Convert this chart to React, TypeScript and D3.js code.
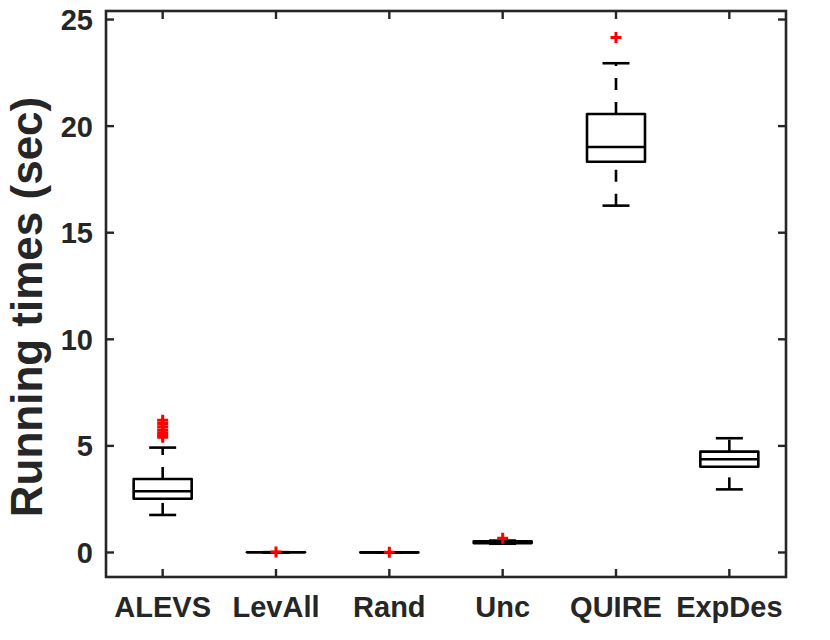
import React from "react";
import * as d3 from "d3";

const categories = ["ALEVS", "LevAll", "Rand", "Unc", "QUIRE", "ExpDes"];
const lowerWhisker = [1.76, 0.005, 0.001, 0.41, 16.27, 2.96];
const q1 = [2.52, 0.008, 0.002, 0.44, 18.33, 4.02];
const medians = [2.87, 0.01, 0.003, 0.48, 19.02, 4.37];
const q3 = [3.45, 0.012, 0.004, 0.52, 20.57, 4.73];
const upperWhisker = [4.92, 0.015, 0.005, 0.56, 22.95, 5.36];
const outliers: number[][] = [
  [5.4, 5.5, 5.62, 5.75, 5.9, 6.05, 6.2],
  [0.02],
  [0.01],
  [0.67],
  [24.16],
  [],
];
const yTicks = [0, 5, 10, 15, 20, 25];

const W = 830;
const H = 640;
const left = 106;
const right = 786;
const top = 11;
const bottom = 577;

const axisColor = "#262626";
const font = "'Liberation Sans', Arial, Helvetica, sans-serif";

export default function App() {
  const x = d3.scaleLinear().domain([0.5, 6.5]).range([left, right]);
  const y = d3.scaleLinear().domain([-1.15, 25.4]).range([bottom, top]);
  const boxW = 58;
  const capW = 27;
  const lw = 2.6;
  const tickLen = 8;
  const plusHalf = 5.5;

  return (
    <svg
      width={W}
      height={H}
      style={{ position: "absolute", left: 0, top: 0, background: "#fff" }}
    >
      <rect x={0} y={0} width={W} height={H} fill="#fff" />
      {categories.map((c, i) => {
        const cx = x(i + 1);
        const yq1 = y(q1[i]);
        const yq3 = y(q3[i]);
        const ymed = y(medians[i]);
        const ylo = y(lowerWhisker[i]);
        const yhi = y(upperWhisker[i]);
        return (
          <g key={c}>
            <line
              x1={cx}
              x2={cx}
              y1={ylo}
              y2={yq1}
              stroke="#000"
              strokeWidth={lw}
              strokeDasharray="12 12"
            />
            <line
              x1={cx}
              x2={cx}
              y1={yq3}
              y2={yhi}
              stroke="#000"
              strokeWidth={lw}
              strokeDasharray="12 12"
            />
            <line
              x1={cx - capW / 2}
              x2={cx + capW / 2}
              y1={ylo}
              y2={ylo}
              stroke="#000"
              strokeWidth={lw}
            />
            <line
              x1={cx - capW / 2}
              x2={cx + capW / 2}
              y1={yhi}
              y2={yhi}
              stroke="#000"
              strokeWidth={lw}
            />
            <rect
              x={cx - boxW / 2}
              y={yq3}
              width={boxW}
              height={Math.max(0, yq1 - yq3)}
              fill="none"
              stroke="#000"
              strokeWidth={lw}
              strokeLinejoin="round"
            />
            <line
              x1={cx - boxW / 2}
              x2={cx + boxW / 2}
              y1={ymed}
              y2={ymed}
              stroke="#000"
              strokeWidth={lw}
            />
            {outliers[i].map((v, j) => (
              <path
                key={j}
                d={`M${cx - plusHalf},${y(v)}H${cx + plusHalf}M${cx},${
                  y(v) - plusHalf
                }V${y(v) + plusHalf}`}
                stroke="#ff0000"
                strokeWidth={3}
                fill="none"
              />
            ))}
          </g>
        );
      })}

      <rect
        x={left}
        y={top}
        width={right - left}
        height={bottom - top}
        fill="none"
        stroke={axisColor}
        strokeWidth={2.6}
      />
      {yTicks.map((t) => (
        <g key={t}>
          <line
            x1={left}
            x2={left + tickLen}
            y1={y(t)}
            y2={y(t)}
            stroke={axisColor}
            strokeWidth={2.4}
          />
          <line
            x1={right}
            x2={right - tickLen}
            y1={y(t)}
            y2={y(t)}
            stroke={axisColor}
            strokeWidth={2.4}
          />
          <text
            x={93}
            y={y(t) + 10.5}
            textAnchor="end"
            fontFamily={font}
            fontWeight="bold"
            fontSize={29}
            fill={axisColor}
          >
            {t}
          </text>
        </g>
      ))}
      {categories.map((c, i) => (
        <g key={c}>
          <line
            x1={x(i + 1)}
            x2={x(i + 1)}
            y1={bottom}
            y2={bottom - tickLen}
            stroke={axisColor}
            strokeWidth={2.4}
          />
          <line
            x1={x(i + 1)}
            x2={x(i + 1)}
            y1={top}
            y2={top + tickLen}
            stroke={axisColor}
            strokeWidth={2.4}
          />
          <text
            x={x(i + 1)}
            y={617}
            textAnchor="middle"
            fontFamily={font}
            fontWeight="bold"
            fontSize={29}
            fill={axisColor}
          >
            {c}
          </text>
        </g>
      ))}
      <text
        transform={`translate(42,307) rotate(-90)`}
        textAnchor="middle"
        fontFamily={font}
        fontWeight="bold"
        fontSize={44}
        fill={axisColor}
      >
        Running times (sec)
      </text>
    </svg>
  );
}
